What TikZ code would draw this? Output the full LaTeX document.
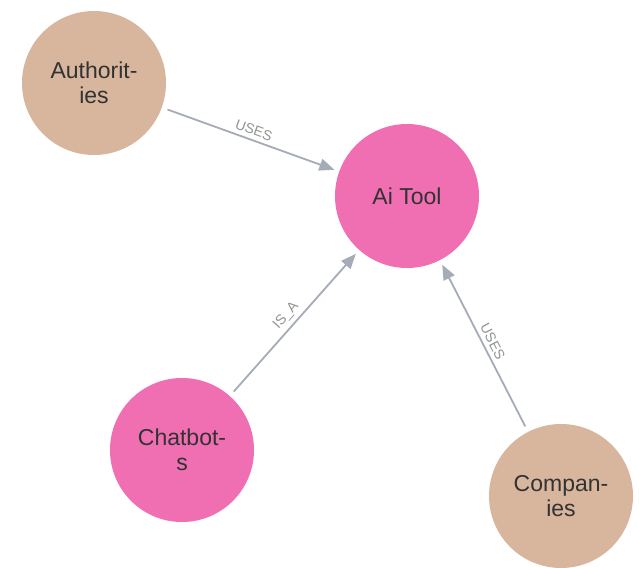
\documentclass[tikz,border=0pt]{standalone}
\usepackage{fontspec}
\setmainfont{Liberation Sans}
\usetikzlibrary{arrows.meta}
\definecolor{tan}{RGB}{216,182,157}
\definecolor{rose}{RGB}{240,110,178}
\definecolor{wire}{RGB}{165,172,183}
\definecolor{ink}{RGB}{50,50,50}
\tikzset{
  entity/.style={circle, minimum size=144pt, inner sep=0pt, align=center,
    text=ink, font=\fontsize{23}{25}\selectfont},
  rel/.style={draw=wire, line width=1.8pt, shorten <=6pt, shorten >=5pt,
    -{Triangle[length=15pt,width=12pt]}},
  tag/.style={sloped, above, inner sep=4pt, text=gray!85!white,
    font=\fontsize{14}{14}\selectfont}
}
\begin{document}
\begin{tikzpicture}[x=1pt,y=-1pt]
\useasboundingbox[fill=white] (0,0) rectangle (639,567);
\node [entity, fill=tan]  (authorities) at (94, 83)  {Authorit-\\ies};
\node [entity, fill=rose] (aitool)      at (407,196) {Ai Tool};
\node [entity, fill=rose] (chatbots)    at (182,450) {Chatbot-\\s};
\node [entity, fill=tan]  (companies)   at (561,496) {Compan-\\ies};

%%%%%%%%%%%%%%%%%%%%%%%%%%%%%%%%%%%%%%%%

\draw [rel] (authorities) -- node[tag]{USES} (aitool);
\draw [rel] (chatbots)    -- node[tag]{IS\_A} (aitool);
\draw [rel] (companies)   -- node[tag]{USES} (aitool);
\end{tikzpicture}
\end{document}
